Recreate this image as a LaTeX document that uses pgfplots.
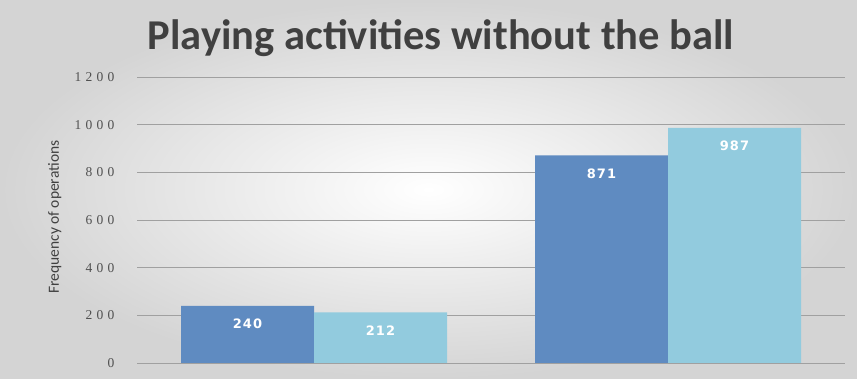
\documentclass[border=0pt]{standalone}
\usepackage{pgfplots}
\pgfplotsset{compat=1.18}
\usepackage{fontspec}
\setmainfont{Carlito}
\newfontfamily\tickfont[LetterSpace=32]{Liberation Serif}
\newfontfamily\valfont[LetterSpace=8]{DejaVu Sans}
\definecolor{darkbar}{RGB}{95,139,193}
\definecolor{lightbar}{RGB}{146,203,222}
\definecolor{titlegray}{RGB}{64,64,64}
\begin{document}
\begin{tikzpicture}[x=1pt,y=1pt]
\shade[inner color=white, outer color={rgb,255:red,212;green,212;blue,212}] (0,0) rectangle (857,379);
\path[use as bounding box] (0,0) rectangle (857,379);
\node[font=\bfseries\fontsize{42.5}{48}\selectfont, text=titlegray] at (441,341) {Playing activities without the ball};
\begin{axis}[
  at={(137pt,16pt)}, anchor=south west,
  scale only axis, width=708pt, height=286pt,
  xmin=-0.5, xmax=1.5, ymin=0, ymax=1200,
  ytick={0,200,...,1200}, xtick=\empty,
  /pgf/number format/assume math mode=true,
  /pgf/number format/1000 sep={},
  ymajorgrids, grid style={draw={rgb,255:red,160;green,160;blue,160}, line width=0.9pt},
  axis line style={draw=none}, major tick style={draw=none},
  yticklabel style={font=\tickfont\fontsize{13.5}{15}\selectfont, text={rgb,255:red,80;green,80;blue,80}, xshift=-19pt},
  ylabel={Frequency of operations},
  ylabel style={at={(axis description cs:-0.116,0.51)}, anchor=center, font=\fontsize{15.5}{17}\selectfont, text=titlegray},
  ybar=0pt, bar width=133pt,
  nodes near coords,
  every node near coord/.append style={font=\valfont\bfseries\fontsize{13}{15}\selectfont, text=white, anchor=center, yshift=-18pt},
]
\addplot[fill=darkbar, draw=none] coordinates {(0,240) (1,871)};
\addplot[fill=lightbar, draw=none] coordinates {(0,212) (1,987)};
\end{axis}
\end{tikzpicture}
\end{document}
